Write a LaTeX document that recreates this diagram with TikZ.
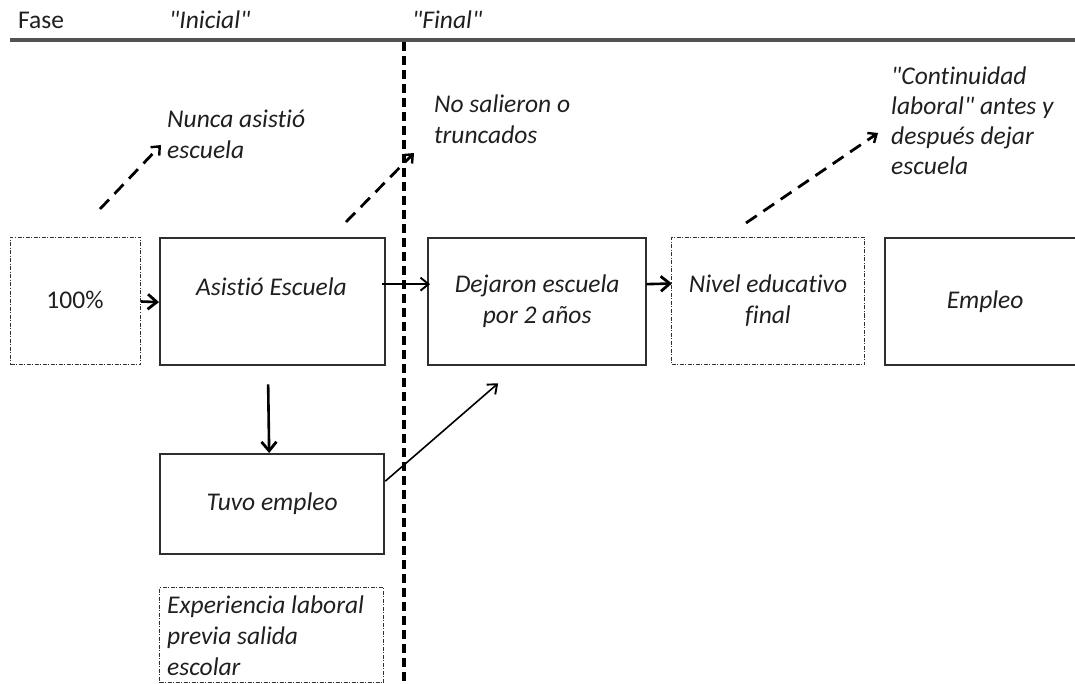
\documentclass[tikz,border=0pt]{standalone}
\usepackage{fontspec}
\setmainfont{Carlito}[Ligatures={TeXOff,CommonOff}]
\usetikzlibrary{arrows.meta}
\begin{document}
\begin{tikzpicture}[x=1pt,y=-1pt,
  every node/.style={font=\fontsize{25.5}{31}\selectfont, inner sep=0pt, text=black!88},
  solidbox/.style={draw=black!82, line width=2.3pt, rectangle, anchor=north west, font=\fontsize{25.5}{31}\selectfont\itshape, align=center},
  dashbox/.style={draw=black!80, line width=1pt, rectangle, anchor=north west, dash pattern=on 4pt off 1.5pt on 1pt off 1.5pt, align=center},
  txt/.style={anchor=north west, align=left, font=\fontsize{25.5}{31}\selectfont\itshape},
  thinarrow/.style={draw=black, line width=1.6pt, -{Straight Barb[length=8pt,width=13pt,line width=1.9pt]}},
  thickarrow/.style={draw=black, line width=2.6pt, -{Straight Barb[length=9pt,width=15pt,line width=2.8pt]}},
  dasharrow/.style={draw=black, line width=2.8pt, dash pattern=on 13pt off 8pt, -{Straight Barb[length=7pt,width=12pt,line width=2.4pt]}}
]
\useasboundingbox (0,0) rectangle (1075,684);
% header
\node[anchor=base west] (fase) at (18,29) {Fase};
\node[anchor=base west, font=\fontsize{25.5}{31}\selectfont\itshape] (inicial) at (169,29) {"Inicial"};
\node[anchor=base west, font=\fontsize{25.5}{31}\selectfont\itshape] (final) at (412,29) {"Final"};
\coordinate (rl) at (10,40);
\coordinate (rr) at (1075,40);
\draw[line width=3.8pt, draw=black!68] (rl) -- (rr);
\coordinate (vt) at (404,42);
\coordinate (vb) at (404,684);
\draw[line width=3.2pt, dash pattern=on 9pt off 5pt] (vt) -- (vb);

% boxes
\node[dashbox, minimum width=130pt, minimum height=127pt] (p100) at (10,237) {};
\node (p100t) at (75,300) {100\%};
\node[solidbox, minimum width=225pt, minimum height=127pt] (asis) at (159,237) {};
\node[font=\fontsize{25.5}{31}\selectfont\itshape] (asist) at (271.5,287) {Asistió Escuela};
\node[solidbox, minimum width=218pt, minimum height=127pt] (dej) at (427,237) {Dejaron escuela\\por 2 años};
\node[dashbox, minimum width=193pt, minimum height=127pt, font=\fontsize{25.5}{31}\selectfont\itshape] (niv) at (671,237) {Nivel educativo\\final};
\node[solidbox, minimum width=200pt, minimum height=127pt] (emp) at (884,237) {Empleo};
\node[solidbox, minimum width=224pt, minimum height=100pt] (tuvo) at (159,453) {Tuvo empleo};
\node[dashbox, minimum width=224pt, minimum height=95pt] (exp) at (159,587) {};
\node[txt] (expt) at (167,596) {Experiencia laboral\\previa salida\\escolar};

% annotations
\node[txt] (nunca) at (167,110) {Nunca asistió\\escuela};
\node[txt] (nosal) at (434,95) {No salieron o\\truncados};
\node[txt, font=\fontsize{25.5}{30}\selectfont\itshape] (cont) at (891,67) {"Continuidad\\laboral" antes y\\después dejar\\escuela};

% solid arrows
\draw[thickarrow] ([yshift=-0.5pt]p100.east) -- ([yshift=-0.5pt]asis.west);
\draw[thinarrow] ([xshift=-4pt,yshift=17.5pt]asis.east) -- ([xshift=3pt,yshift=17.5pt]dej.west);
\draw[thickarrow] ([xshift=-1pt,yshift=17.5pt]dej.east) -- ([xshift=1pt,yshift=17.5pt]niv.west);
\draw[thickarrow] ([xshift=-4.5pt,yshift=-18pt]asis.south) -- ([xshift=-3pt]tuvo.north);
\draw[thinarrow] ([xshift=0pt,yshift=23pt]tuvo.east) -- ([xshift=-39pt,yshift=-17pt]dej.south);

% dashed arrows
\coordinate (d1s) at (100,209);
\coordinate (d1e) at (161,145);
\coordinate (d2s) at (346,222);
\coordinate (d2e) at (414,153);
\coordinate (d3s) at (746,223);
\coordinate (d3e) at (878,133);
\draw[dasharrow] (d1s) -- (d1e);
\draw[dasharrow] (d2s) -- (d2e);
\draw[dasharrow] (d3s) -- (d3e);
\end{tikzpicture}
\end{document}
